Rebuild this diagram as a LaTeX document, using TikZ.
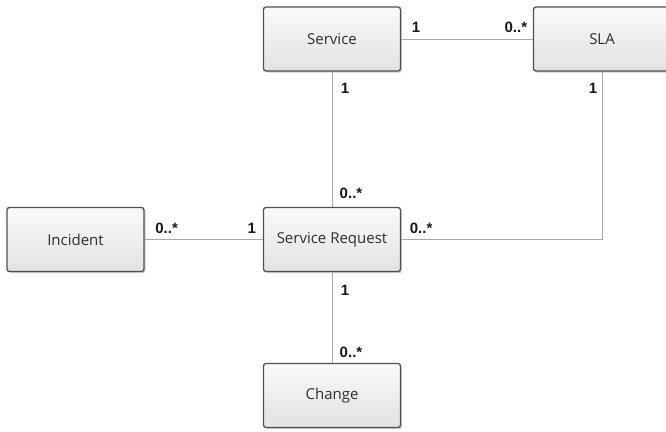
\documentclass[tikz,border=0pt]{standalone}
\usepackage{fontspec}
\setmainfont{Open Sans}
\newfontfamily\labfont{Liberation Sans}
\usetikzlibrary{shadows,calc}
\definecolor{boxedge}{HTML}{505050}
\definecolor{boxtop}{HTML}{FAFAFA}
\definecolor{boxbottom}{HTML}{E2E2E2}
\definecolor{linkgray}{HTML}{A8A8A8}
\tikzset{
  entity/.style={draw=boxedge, line width=1.3pt, rounded corners=2.5pt,
    minimum width=137pt, minimum height=64pt, inner sep=0pt,
    top color=boxtop, bottom color=boxbottom,
    drop shadow={shadow xshift=1.6pt, shadow yshift=-1.6pt, opacity=0.3, fill=black!60},
    font=\fontsize{15}{18}\selectfont, text=black!82},
  link/.style={draw=linkgray, line width=0.9pt},
  mult/.style={font=\labfont\bfseries\fontsize{15}{18}\selectfont, inner sep=0pt, text=black!90}
}
\begin{document}
\begin{tikzpicture}[x=1pt,y=1pt]
\useasboundingbox[fill=white] (0,0) rectangle (666,431);

% entities
\node[entity] (service) at (332,392) {Service};
\node[entity] (sla) at (602,392) {SLA};
\node[entity] (incident) at (75.5,191.5) {Incident};
\node[entity] (request) at (332,191.5) {Service Request};
\node[entity] (change) at (332,35.5) {Change};

% associations
\coordinate (bend) at (sla.south |- request.east);
\draw[link] (service.east) -- (sla.west);
\draw[link] (service.south) -- (request.north);
\draw[link] (incident.east) -- (request.west);
\draw[link] (request.south) -- (change.north);
\draw[link] (sla.south) -- (bend) -- (request.east);

% multiplicities
\node[mult] at ($(service.east)+(15,12)$) {1};
\node[mult] at ($(sla.west)+(-17,12)$) {0..*};
\node[mult] at ($(service.south)+(13,-17)$) {1};
\node[mult] at ($(sla.south)+(-9,-17)$) {1};
\node[mult] at ($(request.north)+(19,14)$) {0..*};
\node[mult] at ($(request.east)+(20,11)$) {0..*};
\node[mult] at ($(incident.east)+(22,11)$) {0..*};
\node[mult] at ($(request.west)+(-11,11)$) {1};
\node[mult] at ($(request.south)+(13,-18)$) {1};
\node[mult] at ($(change.north)+(19,11)$) {0..*};
\end{tikzpicture}
\end{document}
